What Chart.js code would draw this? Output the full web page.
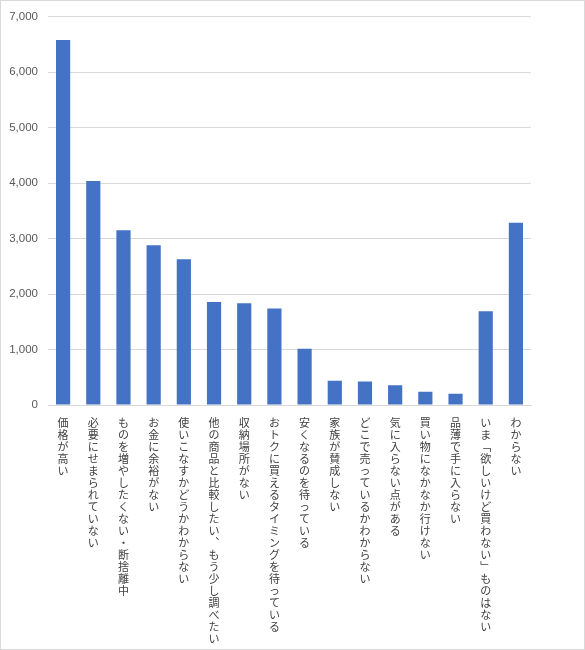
<!DOCTYPE html>
<html>
<head>
<meta charset="utf-8">
<script src="https://cdn.jsdelivr.net/npm/chart.js@4"></script>
<style>
  html, body { margin: 0; padding: 0; background: #fff; }
  #wrap { width: 585px; height: 650px; box-sizing: border-box; border: 1px solid #d9d9d9; position: relative; }
</style>
</head>
<body>
<div id="wrap"><canvas id="reasonChart"></canvas></div>
<script>
// Reasons for not buying (counts)
const categories = [
  '価格が高い',
  '必要にせまられていない',
  'ものを増やしたくない・断捨離中',
  'お金に余裕がない',
  '使いこなすかどうかわからない',
  '他の商品と比較したい、もう少し調べたい',
  '収納場所がない',
  'おトクに買えるタイミングを待っている',
  '安くなるのを待っている',
  '家族が賛成しない',
  'どこで売っているかわからない',
  '気に入らない点がある',
  '買い物になかなか行けない',
  '品薄で手に入らない',
  'いま「欲しいけど買わない」ものはない',
  'わからない'
];
const counts = [6580, 4040, 3150, 2880, 2630, 1855, 1835, 1740, 1015, 435, 425, 355, 240, 205, 1690, 3285];
const yTicks = [0, 1000, 2000, 3000, 4000, 5000, 6000, 7000];

// vertical writing: one character per line, with vertical forms for punctuation
const vertForms = { '「': '﹁', '」': '﹂', '、': '︑', 'ー': '︱' };
const verticalLabels = categories.map(s => Array.from(s).map(c => vertForms[c] || c));

const ctx = document.getElementById('reasonChart').getContext('2d');
new Chart(ctx, {
  type: 'bar',
  data: {
    labels: verticalLabels,
    datasets: [{
      data: counts,
      backgroundColor: '#4472C4',
      barPercentage: 0.94,
      categoryPercentage: 0.5
    }]
  },
  options: {
    responsive: true,
    maintainAspectRatio: false,
    animation: false,
    layout: { padding: { top: 12, right: 53, bottom: 0, left: 0 } },
    plugins: {
      legend: { display: false },
      tooltip: { enabled: false }
    },
    scales: {
      x: {
        grid: { display: false, drawTicks: false },
        border: { display: true, color: '#d9d9d9', width: 1 },
        ticks: {
          autoSkip: false,
          maxRotation: 0,
          minRotation: 0,
          padding: 12,
          color: '#404040',
          font: { family: "'Noto Sans CJK JP'", size: 11, lineHeight: '12px' }
        },
        afterFit: (scale) => { scale.height = 244; }
      },
      y: {
        min: 0,
        max: 7000,
        afterBuildTicks: (scale) => { scale.ticks = yTicks.map(v => ({ value: v })); },
        grid: { color: '#d9d9d9', drawTicks: false },
        border: { display: false },
        ticks: {
          padding: 10,
          color: '#595959',
          font: { family: "'Liberation Sans'", size: 11.5, lineHeight: 1 },
          callback: (v) => v.toLocaleString('en-US')
        },
        afterFit: (scale) => { scale.width = 47; }
      }
    }
  }
});
</script>
</body>
</html>
